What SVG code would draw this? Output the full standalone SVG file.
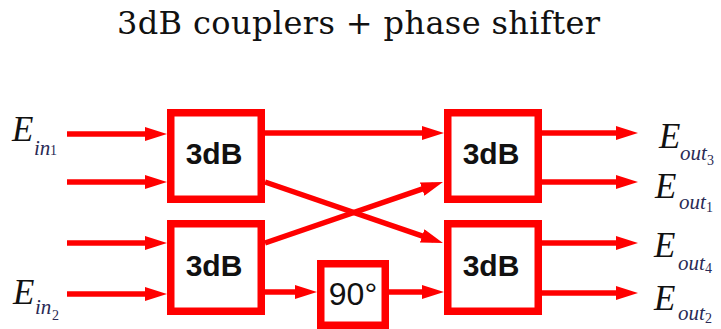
<svg xmlns="http://www.w3.org/2000/svg" width="721" height="329" viewBox="0 0 721 329">
<style>
.box{fill:#fff;stroke:#ff0000;stroke-width:7.5}
.wire{stroke:#ff0000;stroke-width:5.5;fill:none}
.lbl{font-family:"Liberation Sans",Arial,sans-serif;font-size:30px;font-weight:bold;fill:#111}
.E{font-family:"Liberation Serif","Times New Roman",serif;font-style:italic;fill:#111}
.big{font-size:35px}
.sub{font-size:21px;fill:#2a2a55}
.num{font-size:14px;font-style:normal;fill:#2a2a55}
.title{font-family:"DejaVu Serif",serif;font-size:32px;fill:#111}
</style>
<defs>
<marker id="ah" viewBox="0 0 22 14" refX="12" refY="7" markerWidth="22" markerHeight="14" markerUnits="userSpaceOnUse" orient="auto">
<path d="M0,0 L22,7 L0,14 Z" fill="#ff0000"/>
</marker>
</defs>
<text class="title" x="117" y="34" textLength="483">3dB couplers + phase shifter</text>
<g id="connectors">
<line class="wire" x1="67" y1="134" x2="157" y2="134" marker-end="url(#ah)"/>
<line class="wire" x1="67" y1="182" x2="157" y2="182" marker-end="url(#ah)"/>
<line class="wire" x1="67" y1="243" x2="157" y2="243" marker-end="url(#ah)"/>
<line class="wire" x1="67" y1="294" x2="157" y2="294" marker-end="url(#ah)"/>
<line class="wire" x1="265" y1="133" x2="434" y2="133" marker-end="url(#ah)"/>
<line class="wire" x1="265" y1="182" x2="433.5" y2="239.8" marker-end="url(#ah)"/>
<line class="wire" x1="265" y1="243" x2="433.5" y2="185.2" marker-end="url(#ah)"/>
<line class="wire" x1="265" y1="292" x2="307" y2="292" marker-end="url(#ah)"/>
<line class="wire" x1="389" y1="292" x2="434" y2="292" marker-end="url(#ah)"/>
<line class="wire" x1="542" y1="133" x2="628" y2="133" marker-end="url(#ah)"/>
<line class="wire" x1="542" y1="182" x2="628" y2="182" marker-end="url(#ah)"/>
<line class="wire" x1="542" y1="243" x2="628" y2="243" marker-end="url(#ah)"/>
<line class="wire" x1="542" y1="293" x2="628" y2="293" marker-end="url(#ah)"/>
</g>
<g id="coupler1">
<rect class="box" x="170.75" y="112.75" width="90.5" height="86.5"/>
<text class="lbl" x="214" y="164" text-anchor="middle">3dB</text>
</g>
<g id="coupler2">
<rect class="box" x="170.75" y="223.75" width="90.5" height="87.5"/>
<text class="lbl" x="214" y="276" text-anchor="middle">3dB</text>
</g>
<g id="coupler3">
<rect class="box" x="447.75" y="112.75" width="90.5" height="86.5"/>
<text class="lbl" x="491" y="164" text-anchor="middle">3dB</text>
</g>
<g id="coupler4">
<rect class="box" x="447.75" y="223.75" width="90.5" height="87.5"/>
<text class="lbl" x="491" y="276" text-anchor="middle">3dB</text>
</g>
<g id="phase">
<rect class="box" x="320.75" y="263.75" width="64.5" height="61.5"/>
<text class="lbl" x="353" y="305" text-anchor="middle" style="font-size:32px;font-weight:normal">90°</text>
</g>
<g id="Ein1">
<text class="E"><tspan class="big" x="12" y="141">E</tspan><tspan class="sub" x="34" y="155">in</tspan><tspan class="num" x="50" y="155">1</tspan></text>
</g>
<g id="Ein2">
<text class="E"><tspan class="big" x="13" y="304">E</tspan><tspan class="sub" x="35" y="314">in</tspan><tspan class="num" x="52" y="320">2</tspan></text>
</g>
<g id="Eout3">
<text class="E"><tspan class="big" x="659" y="148">E</tspan><tspan class="sub" x="680" y="160">out</tspan><tspan class="num" x="707" y="165">3</tspan></text>
</g>
<g id="Eout1">
<text class="E"><tspan class="big" x="655" y="198">E</tspan><tspan class="sub" x="679" y="209">out</tspan><tspan class="num" x="706" y="212">1</tspan></text>
</g>
<g id="Eout4">
<text class="E"><tspan class="big" x="654" y="257">E</tspan><tspan class="sub" x="678" y="270">out</tspan><tspan class="num" x="705" y="273">4</tspan></text>
</g>
<g id="Eout2">
<text class="E"><tspan class="big" x="654" y="310">E</tspan><tspan class="sub" x="678" y="320">out</tspan><tspan class="num" x="705" y="323">2</tspan></text>
</g>
</svg>
